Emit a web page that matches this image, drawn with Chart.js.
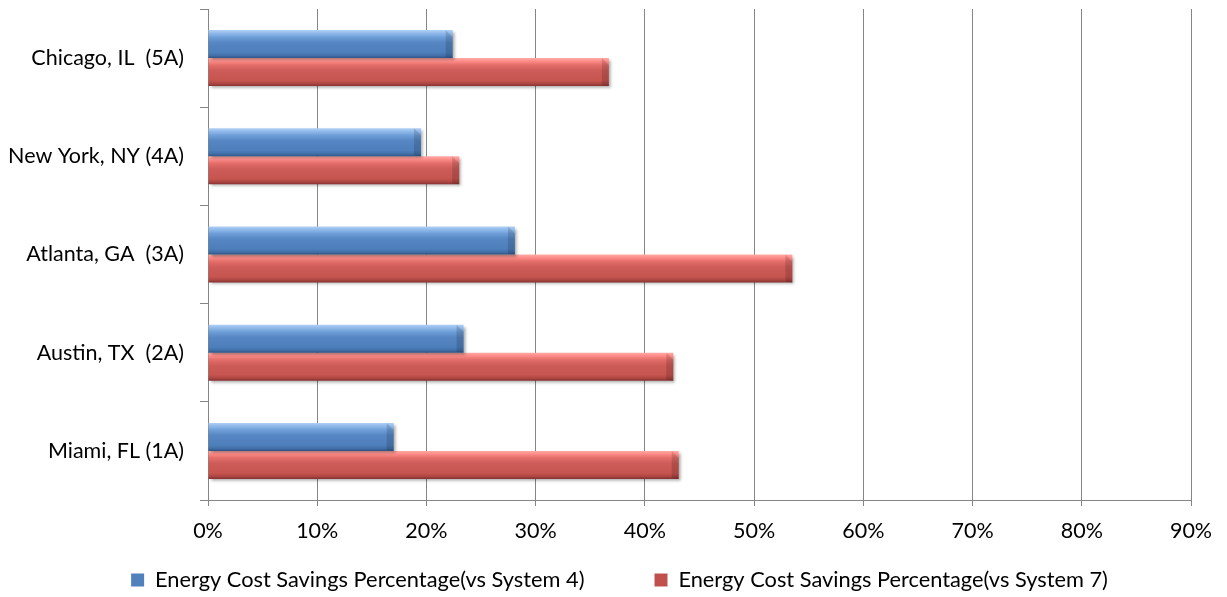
<!DOCTYPE html>
<html>
<head>
<meta charset="utf-8">
<script src="https://cdn.jsdelivr.net/npm/chart.js@4/dist/chart.umd.min.js"></script>
<style>
  html, body { margin: 0; padding: 0; background: #ffffff; }
  #wrap { width: 1227px; height: 597px; }
</style>
</head>
<body>
<div id="wrap"><canvas id="c" width="1227" height="597"></canvas></div>
<script>
// ---- data ----
const categories = ['Chicago, IL  (5A)', 'New York, NY (4A)', 'Atlanta, GA  (3A)', 'Austin, TX  (2A)', 'Miami, FL (1A)'];
const seriesNames = ['Energy Cost Savings Percentage(vs System 4)', 'Energy Cost Savings Percentage(vs System 7)'];
const system4 = [22.4, 19.5, 28.1, 23.4, 17.0];
const system7 = [36.7, 23.0, 53.5, 42.6, 43.1];
const xTicks = [0, 10, 20, 30, 40, 50, 60, 70, 80, 90];

// ---- styles ----
const FONT = 'Lato, "Open Sans", sans-serif';
const baseColors = ['#4F81BD', '#C0504D'];
const gradStops = [
  [[0, '#b0d0f5'], [0.1, '#93bcec'], [0.25, '#6f9fd8'], [0.45, '#5686c3'], [0.8, '#4d7fbb'], [0.92, '#416ea6'], [1, '#2e5283']],
  [[0, '#ffaba8'], [0.1, '#ff8e8a'], [0.25, '#e36e6a'], [0.45, '#cd5b57'], [0.8, '#c6544f'], [0.92, '#aa4441'], [1, '#853230']]
];
const LEGEND_GAP = 70;
const LEGEND_FONT = 21.8;

const shadePlugin = {
  id: 'shade',
  afterLayout(chart) {
    // place the legend row as in the reference (centred under the whole figure, low on the page)
    const lg = chart.legend;
    if (lg) {
      lg.left = 48;
      lg.top = 580 - LEGEND_GAP - LEGEND_FONT / 2;
    }
  },
  beforeDatasetsDraw(chart) {
    const ctx = chart.ctx;
    chart.data.datasets.forEach((ds, di) => {
      const meta = chart.getDatasetMeta(di);
      meta.data.forEach(bar => {
        const h = bar.height, top = bar.y - h / 2;
        const g = ctx.createLinearGradient(0, top, 0, top + h);
        gradStops[di].forEach(([o, c]) => g.addColorStop(o, c));
        bar.options = Object.assign({}, bar.options, { backgroundColor: g });
      });
    });
  },
  beforeDatasetDraw(chart) {
    const ctx = chart.ctx;
    ctx.save();
    ctx.shadowColor = 'rgba(0,0,0,0.35)';
    ctx.shadowOffsetX = 2;
    ctx.shadowOffsetY = 2;
    ctx.shadowBlur = 3;
  },
  afterDatasetDraw(chart) {
    chart.ctx.restore();
  },
  afterDatasetsDraw(chart) {
    const ctx = chart.ctx;
    chart.data.datasets.forEach((ds, di) => {
      const meta = chart.getDatasetMeta(di);
      meta.data.forEach(bar => {
        const h = bar.height, top = bar.y - h / 2, bot = bar.y + h / 2, x = bar.x;
        const b = Math.min(7, h / 3);
        ctx.save();
        ctx.beginPath();
        ctx.moveTo(x - b, top);
        ctx.lineTo(x, top + b);
        ctx.lineTo(x, bot);
        ctx.lineTo(x - b, bot - 1);
        ctx.closePath();
        ctx.fillStyle = 'rgba(0,0,0,0.14)';
        ctx.fill();
        ctx.restore();
      });
    });
  }
};

const ctx = document.getElementById('c').getContext('2d');
new Chart(ctx, {
  type: 'bar',
  data: {
    labels: categories,
    datasets: [
      { label: seriesNames[0], data: system4, backgroundColor: baseColors[0], borderWidth: 0 },
      { label: seriesNames[1], data: system7, backgroundColor: baseColors[1], borderWidth: 0 }
    ]
  },
  options: {
    indexAxis: 'y',
    responsive: false,
    animation: false,
    events: [],
    categoryPercentage: 0.57,
    barPercentage: 1.0,
    layout: { padding: { left: 0, right: 36, top: 9, bottom: 0 } },
    scales: {
      x: {
        type: 'linear',
        min: 0,
        max: 90,
        afterBuildTicks: (scale) => { scale.ticks = xTicks.map(v => ({ value: v })); },
        afterFit: (scale) => { scale.height = 61; scale.paddingLeft = 0; scale.paddingRight = 0; },
        ticks: {
          callback: (v) => v + '%',
          color: '#000000',
          font: { family: FONT, size: 21.5 },
          padding: 12,
          maxRotation: 0,
          autoSkip: false
        },
        grid: { color: '#858585', lineWidth: 1, tickLength: 6, drawTicks: true },
        border: { color: '#858585', width: 1 }
      },
      y: {
        afterFit: (scale) => { scale.width = 208; scale.paddingTop = 0; scale.paddingBottom = 0; },
        ticks: {
          color: '#000000',
          font: { family: FONT, size: 21.5 },
          padding: 16
        },
        grid: { drawOnChartArea: false, color: '#858585', tickLength: 8, offset: true },
        border: { color: '#858585', width: 1 }
      }
    },
    plugins: {
      legend: {
        position: 'bottom',
        maxHeight: 36,
        labels: {
          color: '#000000',
          font: { family: FONT, size: LEGEND_FONT },
          boxWidth: 13,
          boxHeight: 13,
          padding: LEGEND_GAP
        }
      },
      tooltip: { enabled: false }
    }
  },
  plugins: [shadePlugin]
});
</script>
</body>
</html>
